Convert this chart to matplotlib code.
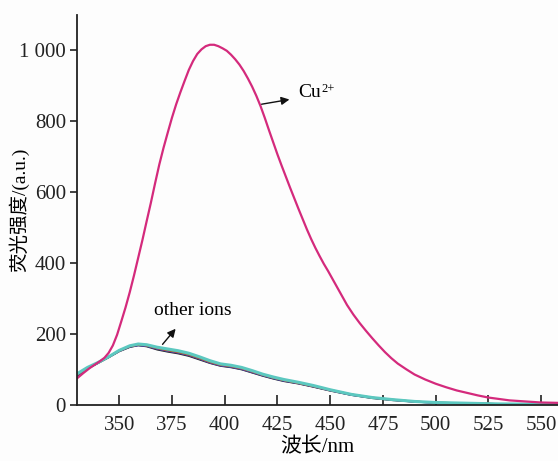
import matplotlib
matplotlib.use("Agg")
import matplotlib.pyplot as plt

plt.rcParams['font.family'] = ['Liberation Serif', 'Noto Sans CJK SC']

# Cu2+ spectrum
cu_x = [330, 333, 336, 339, 341, 343, 345, 347, 349, 351, 353, 355, 357, 359, 361, 363, 365,
        367, 369, 371, 373, 375, 377, 379, 381, 383, 385, 387, 389, 391, 393, 395, 397,
        399, 401, 403, 405, 407, 409, 411, 413, 415, 417, 419, 421, 423, 425, 427, 429,
        431, 433, 435, 437, 439, 441, 443, 445, 447, 449, 452, 455, 458, 461, 464, 467,
        470, 473, 476, 479, 482, 486, 490, 495, 500, 505, 510, 515, 520, 525, 530, 535,
        540, 545, 550, 558]
cu_y = [75, 90, 104, 116, 124, 133, 147, 168, 198, 236, 275, 318, 365, 415, 465, 518, 570,
        625, 678, 725, 768, 810, 848, 882, 914, 945, 970, 990, 1003, 1012, 1016, 1016, 1012,
        1006, 999, 988, 975, 960, 942, 921, 898, 872, 843, 810, 775, 741, 707, 675, 644,
        613, 583, 553, 524, 495, 468, 443, 420, 398, 378, 346, 314, 282, 255, 231, 209,
        188, 168, 149, 132, 117, 101, 86, 72, 60, 50, 41, 34, 27, 21, 17, 13,
        11, 9, 7, 6]

# other ions spectra
ot_x = [330, 335, 340, 345, 350, 355, 359, 363, 368, 373, 378, 383, 388, 393, 398, 403,
        408, 413, 418, 423, 428, 435, 442, 450, 460, 470, 480, 490, 500, 515, 530, 558]
black = [82, 102, 118, 134, 151, 163, 168, 165, 156, 150, 145, 138, 128, 118, 110, 106,
         100, 91, 82, 74, 67, 60, 51, 40, 28, 19, 13, 9, 6, 4, 3, 2]
blue = [84, 103, 119, 135, 152, 164, 168, 166, 158, 152, 147, 140, 130, 119, 111, 107,
        101, 92, 83, 75, 68, 61, 52, 41, 28, 20, 14, 9, 6, 4, 3, 2]
purple = [85, 104, 119, 135, 152, 165, 169, 167, 159, 153, 148, 141, 131, 120, 112, 108,
          102, 93, 84, 76, 69, 61, 52, 41, 29, 20, 14, 9, 6, 4, 3, 2]
red = [86, 104, 119, 135, 153, 165, 170, 168, 160, 154, 149, 142, 132, 121, 113, 109,
       103, 94, 85, 77, 70, 62, 53, 42, 29, 20, 14, 10, 7, 5, 3, 2]
orange = [86, 105, 120, 136, 153, 166, 170, 168, 161, 155, 150, 143, 133, 122, 114, 110,
          104, 95, 85, 77, 70, 62, 53, 42, 30, 21, 15, 10, 7, 5, 3, 2]
green = [87, 105, 120, 136, 154, 166, 171, 169, 162, 156, 151, 144, 134, 123, 115, 111,
         105, 96, 86, 78, 71, 63, 54, 43, 30, 21, 15, 10, 7, 5, 3, 2]
teal = [88, 106, 120, 136, 154, 167, 172, 170, 163, 158, 153, 146, 136, 125, 116, 112,
        106, 97, 87, 79, 72, 64, 55, 43, 30, 21, 15, 10, 7, 5, 3, 2]

x_ticks = [350, 375, 400, 425, 450, 475, 500, 525, 550]
y_ticks = [0, 200, 400, 600, 800, 1000]
y_tick_labels = ["0", "200", "400", "600", "800", "1 000"]

fig = plt.figure(figsize=(5.58, 4.61), dpi=100, facecolor='#fdfdfd')
ax = fig.add_axes([0.138, 0.1215, 0.862, 0.846])
ax.set_facecolor('#fdfdfd')

others = [(black, '#222222'), (blue, '#3a4fb0'), (purple, '#7a3f9a'), (red, '#b0403a'),
          (orange, '#c08030'), (green, '#4a9a50'), (teal, '#5cc8c0')]
for vals, c in others:
    lw = 2.2 if c == '#5cc8c0' else 1.2
    ax.plot(ot_x, vals, color=c, lw=lw, solid_capstyle='round', solid_joinstyle='round')

ax.plot(cu_x, cu_y, color='#d42a7c', lw=1.6, solid_joinstyle='round')

ax.set_xlim(330, 558)
ax.set_ylim(0, 1100)
ax.set_xticks(x_ticks)
ax.set_yticks(y_ticks)
ax.set_yticklabels(y_tick_labels)
ax.spines['top'].set_visible(False)
ax.spines['right'].set_visible(False)
for s in ['left', 'bottom']:
    ax.spines[s].set_linewidth(1.3)
    ax.spines[s].set_color('#222222')
ax.tick_params(axis='x', direction='in', length=7, width=1.2, labelsize=15, pad=8, colors='#222222')
ax.tick_params(axis='y', direction='out', length=5, width=1.2, labelsize=15, pad=3, colors='#222222')

ax.set_xlabel('波长/nm', fontsize=15, labelpad=2)
ax.set_ylabel('荧光强度/(a.u.)', fontsize=14)
ax.yaxis.set_label_coords(-0.10, 0.5)

ax.annotate('', xy=(432, 863), xytext=(416.2, 847),
            arrowprops=dict(arrowstyle='-|>', color='#111111', lw=1.0, mutation_scale=12))
cu_txt = ax.text(434.7, 881, 'Cu', fontsize=14, va='center', ha='left')
ax.annotate('2+', xy=(1, 1), xycoords=cu_txt, xytext=(0.5, -3.5),
            textcoords='offset points', fontsize=9, va='center', ha='left')

ax.annotate('', xy=(377.6, 221), xytext=(369.7, 165),
            arrowprops=dict(arrowstyle='-|>', color='#111111', lw=1.0, mutation_scale=12))
ax.text(385, 267, 'other ions', fontsize=14, va='center', ha='center')

fig.savefig('out.png', dpi=100, facecolor=fig.get_facecolor())
